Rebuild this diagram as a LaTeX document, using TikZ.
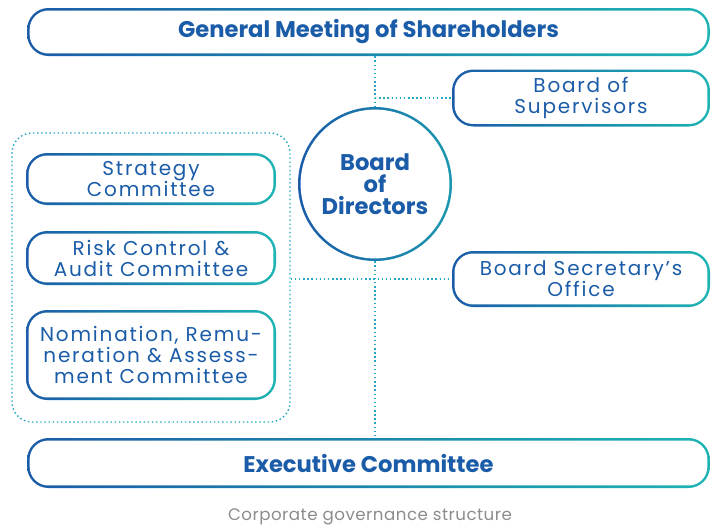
\documentclass[tikz,border=0pt]{standalone}
\usepackage{fontspec}
\setmainfont{Poppins}
\newfontfamily\wide[LetterSpace=9]{Poppins}
\newfontfamily\capfont[LetterSpace=3]{Poppins}
\usetikzlibrary{positioning}
\definecolor{govblue}{HTML}{1B5CA8}
\definecolor{govteal}{HTML}{1DB3B3}
\definecolor{linkteal}{HTML}{25A8C2}
\definecolor{capgray}{HTML}{8C8C8C}

\begin{document}
\begin{tikzpicture}[x=0.75pt,y=-0.75pt,
  govbox/.style={rounded corners=16pt, left color=govblue, middle color=govblue!70!govteal,
    right color=govteal, text=govblue, align=center, inner sep=0pt,
    font=\wide\fontsize{15}{15.75}\selectfont,
    path picture={\fill[white,rounded corners=14pt]
      ([shift={(1.9pt,1.9pt)}]path picture bounding box.south west) rectangle
      ([shift={(-1.9pt,-1.9pt)}]path picture bounding box.north east);}},
  govcircle/.style={circle, minimum size=115.5pt, left color=govblue, middle color=govblue,
    right color=govteal!70!govblue, text=govblue, align=center, inner sep=0pt,
    font=\bfseries\fontsize{17}{16.5}\selectfont,
    path picture={\fill[white] (path picture bounding box.center) circle[radius=55.8pt];}},
  headbox/.style={govbox, font=\bfseries\fontsize{17}{18}\selectfont},
  linkdot/.style={draw=linkteal, line width=1.1pt, dash pattern=on 1.1pt off 2pt}]
\useasboundingbox (0,0) rectangle (712,529);

% Top and bottom bodies
\node[headbox, minimum width=512pt, minimum height=36pt] (gms) at (368.5,32) {General Meeting of Shareholders};
\node[headbox, minimum width=512pt, minimum height=37.5pt] (exec) at (368.5,463) {Executive Committee};

% Board and its neighbours
\node[govcircle] (bod) at (375,184) {Board\\of\\Directors};
\node[govbox, minimum width=193.5pt, minimum height=42.75pt] (sup) at (581,98) {Board of\\Supervisors};
\node[govbox, minimum width=193.5pt, minimum height=42pt] (sec) at (581,279) {Board Secretary’s\\Office};

% Special committees
\node[linkdot, rounded corners=15pt, minimum width=208.5pt, minimum height=216.75pt] (grp) at (151,277.5) {};
\node[govbox, minimum width=187.5pt, minimum height=39pt] (strat) at (151,179) {Strategy\\Committee};
\node[govbox, minimum width=187.5pt, minimum height=40.5pt] (risk) at (151,258) {Risk Control \&\\Audit Committee};
\node[govbox, minimum width=187.5pt, minimum height=67.5pt] (nom) at (151,355) {Nomination, Remu-\\neration \& Assess-\\ment Committee};

% Links
\draw[linkdot] (bod.north |- gms.south) -- (bod.north);
\draw[linkdot] (bod.north |- sup.west) -- (sup.west);
\draw[linkdot] (bod.south) -- (bod.south |- exec.north);
\draw[linkdot] (grp.east |- sec.west) -- (sec.west);

\node[text=capgray, font=\capfont\fontsize{12.5}{14}\selectfont] (cap) at (370,517) {Corporate governance structure};
\end{tikzpicture}
\end{document}
